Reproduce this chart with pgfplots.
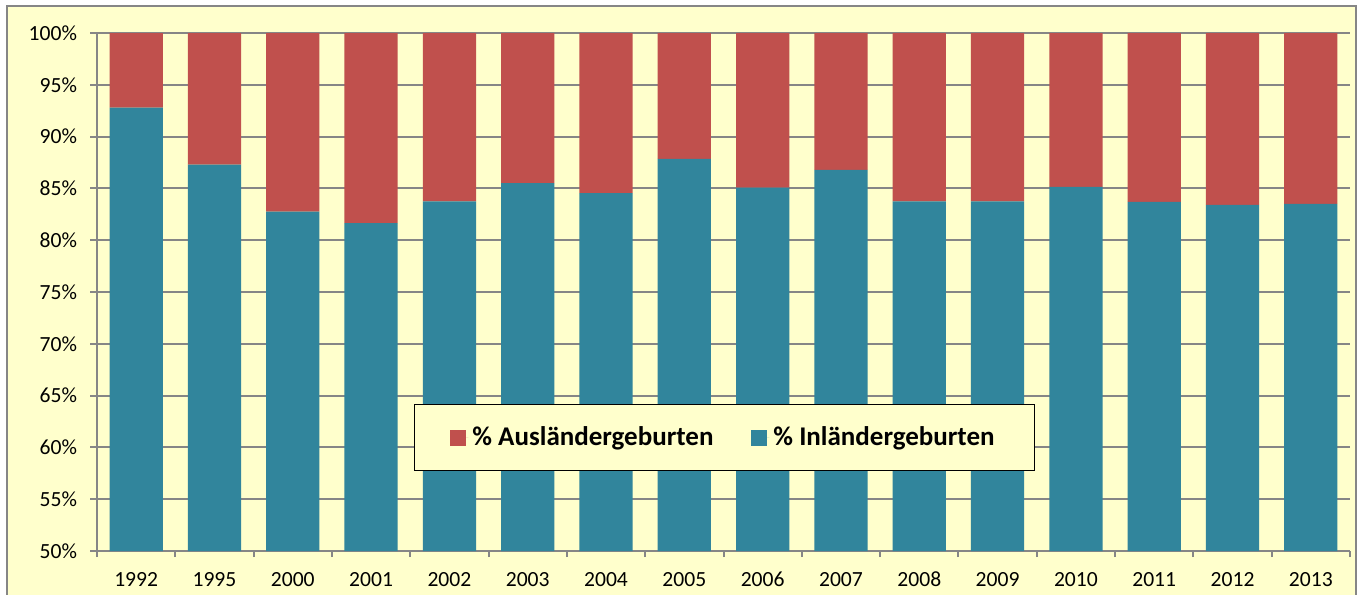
\documentclass[border=0pt]{standalone}
\usepackage{pgfplots}
\pgfplotsset{compat=1.18}
\usepackage{fontspec}
\setmainfont{Carlito}
\definecolor{bgyellow}{RGB}{255,255,204}
\definecolor{barred}{RGB}{192,80,77}
\definecolor{barteal}{RGB}{49,133,156}
\definecolor{gridgray}{RGB}{134,134,134}
\begin{document}
\begin{tikzpicture}
\useasboundingbox (0,0) rectangle (679.5pt,297pt);
\begin{scope}
\clip (0,0) rectangle (679.5pt,297pt);
\fill[bgyellow] (3.5pt,-5pt) rectangle (678pt,294pt);
\draw[gridgray, line width=1pt] (3.5pt,-5pt) rectangle (678pt,294pt);
\end{scope}
\begin{axis}[
  at={(48.5pt,21.5pt)}, anchor=south west,
  scale only axis, width=626.5pt, height=259pt,
  ybar stacked, bar width=0.68,
  xmin=-0.5, xmax=15.5, ymin=50, ymax=100,
  axis lines*=left,
  axis line style={gridgray, line width=1pt},
  tick style={gridgray, line width=1pt},
  tick align=outside,
  major tick length=3.5pt, minor tick length=3pt,
  xtick={0,...,15},
  xticklabels={1992,1995,2000,2001,2002,2003,2004,2005,2006,2007,2008,2009,2010,2011,2012,2013},
  major x tick style={draw=none},
  minor xtick={-0.5,0.5,...,15.5},
  ytick={50,55,...,100},
  yticklabel={\pgfmathprintnumber{\tick}\%},
  /pgf/number format/assume math mode=true,
  typeset ticklabels with strut,
  ymajorgrids,
  grid style={gridgray, line width=1pt},
  tick label style={font=\fontsize{10.8}{13}\selectfont, text=black},
  yticklabel style={xshift=-3pt},
  xticklabel style={yshift=-1.5pt},
  legend style={at={(0.5008,0.219)}, anchor=center, draw=black, line width=0.8pt,
    fill=bgyellow, font=\bfseries\fontsize{13.5}{16}\selectfont,
    inner xsep=18pt, inner ysep=9pt,
    /tikz/every even column/.append style={column sep=17pt}},
  legend columns=2, legend cell align=left, reverse legend,
]
\addplot[fill=barteal, draw=none, legend image code/.code={\path (0pt,0pt) -- (9pt,0pt);\fill[barteal] (0pt,-4pt) rectangle (8pt,4pt);}] coordinates {
(0,92.8) (1,87.3) (2,82.75) (3,81.65) (4,83.75) (5,85.5) (6,84.55) (7,87.85)
(8,85.07) (9,86.8) (10,83.75) (11,83.75) (12,85.15) (13,83.7) (14,83.4) (15,83.5)};
\addplot[fill=barred, draw=none, legend image code/.code={\path (0pt,0pt) -- (9pt,0pt);\fill[barred] (0pt,-4pt) rectangle (8pt,4pt);}] coordinates {
(0,7.2) (1,12.7) (2,17.25) (3,18.35) (4,16.25) (5,14.5) (6,15.45) (7,12.15)
(8,14.93) (9,13.2) (10,16.25) (11,16.25) (12,14.85) (13,16.3) (14,16.6) (15,16.5)};
\legend{\% Inländergeburten, \% Ausländergeburten}
\end{axis}
\end{tikzpicture}
\end{document}
